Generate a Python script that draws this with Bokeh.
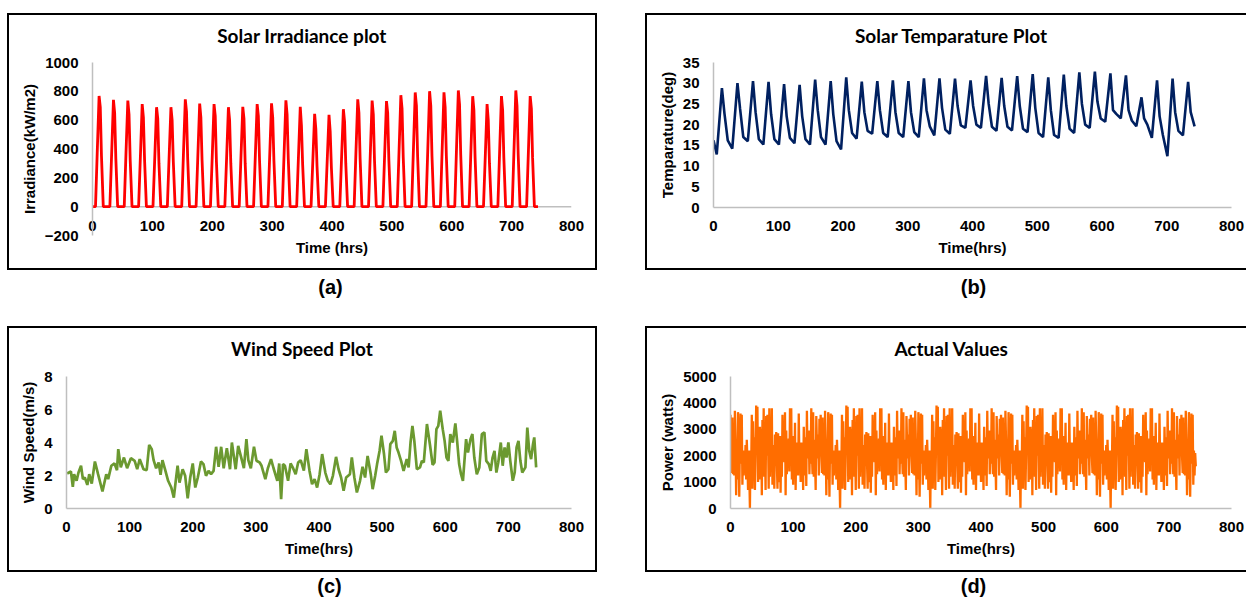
from bokeh.plotting import figure
from bokeh.models import Label, Range1d, Span, Spacer
from bokeh.layouts import column, row
from bokeh.embed import file_html
from bokeh.resources import INLINE

# ---------------- data ----------------
x_ticks = [0, 100, 200, 300, 400, 500, 600, 700, 800]
irr_ticks = [-200, 0, 200, 400, 600, 800, 1000]
temp_ticks = [0, 5, 10, 15, 20, 25, 30, 35]
wind_ticks = [0, 2, 4, 6, 8]
power_ticks = [0, 1000, 2000, 3000, 4000, 5000]

# Solar irradiance: daily values (31 days) at 8h, 11h (peak), 13h, 15h; zero at night
irr_8h = [390, 370, 380, 350, 340, 350, 380, 360, 350, 340, 350, 360, 360, 370, 350, 320,
          320, 340, 380, 370, 370, 390, 400, 400, 400, 410, 390, 350, 390, 400, 380]
irr_peak = [768, 741, 736, 711, 690, 690, 745, 715, 711, 690, 692, 711, 717, 738, 692, 644,
            637, 676, 745, 736, 732, 773, 792, 801, 793, 806, 766, 711, 767, 806, 767]
irr_13h = [690, 650, 640, 620, 610, 600, 660, 620, 630, 600, 610, 630, 620, 640, 560, 540,
           520, 590, 650, 640, 650, 680, 700, 700, 690, 710, 670, 600, 670, 700, 680]
irr_15h = [350, 330, 320, 320, 300, 310, 330, 320, 310, 300, 300, 320, 320, 330, 290, 280,
           270, 300, 330, 320, 320, 340, 350, 350, 350, 360, 340, 300, 340, 360, 340]

# Solar temperature: daily values at dawn (5h), peak (13h), late afternoon (17h), night (22h)
temp_start = 16.2
temp_end = 19.6
temp_dawn = [12.8, 14.2, 16.0, 15.2, 15.2, 15.5, 15.2, 15.2, 14.0, 16.6, 17.8, 17.0, 17.0, 17.0,
             17.4, 17.8, 19.2, 19.2, 18.5, 18.6, 18.2, 17.0, 16.8, 18.0, 19.2, 20.7, 21.5, 19.6,
             16.8, 12.4, 17.4]
temp_peak = [28.8, 30.0, 30.5, 30.3, 29.8, 29.6, 30.9, 30.5, 31.4, 30.4, 30.5, 30.7, 30.5, 31.2,
             31.2, 31.1, 30.7, 31.8, 31.3, 31.7, 32.2, 31.4, 32.1, 32.6, 32.8, 32.4, 31.9, 26.6,
             30.7, 31.1, 30.3]
temp_late = [22.6, 23.9, 23.0, 22.5, 22.0, 22.0, 23.5, 22.5, 23.5, 23.0, 23.5, 23.0, 23.0, 23.5,
             24.0, 24.5, 24.5, 25.0, 24.5, 24.5, 24.0, 23.5, 24.5, 25.0, 25.5, 23.5, 23.5, 21.5,
             22.0, 23.0, 23.0]
temp_night = [16.2, 17.0, 16.5, 16.5, 16.8, 16.5, 17.0, 16.0, 18.0, 18.5, 18.0, 18.0, 18.2, 19.6,
              18.8, 19.8, 20.0, 19.5, 19.5, 19.0, 18.0, 17.5, 19.0, 20.0, 21.5, 22.6, 21.0, 20.0,
              17.5, 18.5]

# Wind speed (hour, m/s)
wind_t = [1, 7, 10, 12, 16, 19, 23, 26, 29, 33, 36, 40, 45, 50, 57, 63, 66, 71, 76, 80, 82, 86,
          91, 96, 102, 108, 112, 116, 122, 127, 131, 135, 138, 142, 146, 149, 152, 156, 161, 166,
          170, 174, 176, 179, 184, 188, 192, 196, 200, 204, 208, 213, 217, 221, 225, 229, 233,
          237, 241, 245, 249, 254, 259, 262, 265, 268, 272, 277, 281, 285, 288, 292, 297, 301,
          306, 309, 315, 319, 324, 328, 334, 337, 340, 343, 346, 351, 355, 359, 363, 367, 371,
          376, 380, 385, 389, 393, 397, 401, 405, 410, 414, 418, 422, 427, 431, 435, 439, 443,
          449, 452, 456, 460, 465, 469, 473, 477, 482, 485, 489, 492, 496, 499, 503, 506, 510,
          513, 517, 520, 523, 526, 530, 534, 539, 542, 545, 548, 551, 555, 560, 563, 566, 571,
          576, 580, 583, 586, 589, 592, 596, 599, 602, 605, 608, 612, 616, 619, 622, 625, 628,
          633, 636, 640, 643, 646, 650, 654, 658, 662, 665, 669, 672, 675, 678, 681, 684, 688,
          691, 694, 697, 700, 703, 707, 710, 713, 716, 719, 722, 727, 730, 733, 736, 739, 741, 744]
wind_v = [2.12, 2.24, 1.31, 2.08, 1.68, 2.18, 2.59, 1.78, 1.88, 1.43, 2.08, 1.51, 2.85, 2.08, 1.03,
          2.08, 1.78, 2.59, 2.73, 2.32, 3.6, 2.49, 3.09, 2.44, 3.05, 2.89, 2.38, 2.99, 2.38, 2.32,
          3.86, 3.6, 2.93, 2.44, 2.79, 2.04, 2.93, 2.38, 1.68, 1.27, 0.66, 1.98, 2.59, 1.57, 2.38,
          1.98, 0.62, 1.88, 2.73, 1.27, 1.88, 2.85, 2.69, 1.98, 2.28, 2.08, 2.28, 3.74, 2.53, 3.74,
          2.44, 3.66, 2.38, 4.0, 3.19, 2.38, 3.8, 3.05, 2.44, 4.2, 2.93, 2.44, 3.74, 2.89, 2.79,
          2.59, 1.78, 2.44, 2.99, 2.44, 1.68, 2.73, 0.56, 2.69, 2.59, 1.68, 2.73, 2.44, 2.08, 2.79,
          2.93, 2.3, 3.6, 2.28, 1.47, 1.78, 1.27, 2.08, 3.3, 2.18, 1.68, 1.47, 1.98, 3.13, 2.38,
          1.88, 1.07, 1.88, 2.08, 3.09, 1.88, 0.97, 1.68, 2.53, 1.88, 3.19, 2.08, 1.17, 1.98, 2.69,
          3.5, 4.41, 3.3, 2.18, 2.38, 3.9, 4.1, 4.71, 3.7, 3.39, 2.89, 2.28, 2.99, 2.49, 4.0, 5.01,
          4.1, 2.38, 2.49, 2.89, 2.79, 5.12, 3.8, 2.64, 2.79, 4.81, 5.01, 5.93, 4.81, 4.1, 3.09,
          2.89, 4.51, 4.0, 5.16, 4.0, 2.69, 2.08, 1.68, 4.2, 3.39, 4.2, 4.51, 3.09, 2.08, 2.49,
          4.51, 4.61, 2.89, 2.69, 2.28, 3.09, 3.5, 2.18, 2.79, 4.0, 2.59, 3.7, 3.09, 4.0, 2.89,
          1.68, 2.18, 3.7, 4.1, 2.89, 2.18, 2.49, 4.91, 3.5, 2.99, 3.9, 4.31, 2.49]

# Actual power (W): hourly values; the recorded series repeats with a 144-hour cycle
power_cycle = [3550, 2000, 1350, 3450, 1300, 2600, 1250, 3700, 2500, 500, 2600, 1100,
               3650, 1900, 450, 2500, 3600, 1700, 3550, 900, 2200, 1250, 2100, 1600,
               2400, 1100, 2600, 1800, 700, 2200, 1300, 0, 2200, 1400, 3550, 750,
               3300, 1250, 2700, 700, 2100, 3900, 2500, 3850, 1000, 2600, 1100, 3100,
               1800, 3000, 500, 3350, 1700, 3800, 1200, 2500, 700, 3500, 2000, 3550,
               2600, 750, 3800, 1200, 2800, 1850, 3800, 900, 2400, 1800, 750, 2800,
               1800, 2900, 1750, 750, 2850, 1000, 1500, 2750, 600, 2600, 1200, 3550,
               1800, 3100, 1750, 3650, 500, 2950, 1300, 2500, 1900, 2650, 1400, 3800,
               2000, 3800, 1100, 2600, 900, 2750, 1600, 3250, 700, 2500, 1350, 2400,
               1250, 3600, 1800, 2200, 1000, 2500, 1600, 2100, 700, 3100, 2000, 1250,
               2700, 850, 3700, 1900, 2400, 2950, 1300, 2600, 1700, 3800, 2100, 1300,
               3650, 1200, 2600, 1850, 700, 3500, 2400, 1900, 2800, 1250, 3400, 2550]
power_hours = 744

# ---------------- build series ----------------
irr_t, irr_v = [0], [0]
for d in range(31):
    b = 24 * d
    irr_t += [b + 5, b + 8, b + 11, b + 13, b + 15, b + 18]
    irr_v += [0, irr_8h[d], irr_peak[d], irr_13h[d], irr_15h[d], 0]
irr_t.append(744)
irr_v.append(0)

temp_t, temp_v = [0], [temp_start]
for d in range(31):
    b = 24 * d
    temp_t += [b + 5, b + 13, b + 17]
    temp_v += [temp_dawn[d], temp_peak[d], temp_late[d]]
    if d < 30:
        temp_t.append(b + 22)
        temp_v.append(temp_night[d])
temp_t.append(743)
temp_v.append(temp_end)

power_v = (power_cycle * 6)[:power_hours]
power_t = list(range(power_hours))

FONT = "Liberation Sans"
TFONT = "Lato"
AXIS_GREY = "#BFBFBF"


def chart(W, H, borders, yr, yticks, ylabel, xlabel, x_std=13):
    bl, br, bt, bb = borders
    p = figure(width=W, height=H, x_range=Range1d(0, 800), y_range=Range1d(*yr),
               output_backend="svg", toolbar_location=None,
               min_border_left=bl, min_border_right=br,
               min_border_top=bt, min_border_bottom=bb)
    p.outline_line_color = None
    p.grid.visible = False
    p.xaxis.ticker = x_ticks
    p.yaxis.ticker = yticks
    for ax in (p.xaxis[0], p.yaxis[0]):
        ax.axis_line_color = AXIS_GREY
        ax.axis_line_width = 1.5
        ax.major_tick_line_color = None
        ax.minor_tick_line_color = None
        ax.major_tick_out = 0
        ax.major_tick_in = 0
        ax.minor_tick_out = 0
        ax.minor_tick_in = 0
        ax.major_label_text_font = FONT
        ax.major_label_text_font_size = "15px"
        ax.major_label_text_font_style = "bold"
        ax.major_label_text_color = "black"
        ax.axis_label_text_font = FONT
        ax.axis_label_text_font_size = "15px"
        ax.axis_label_text_font_style = "bold"
        ax.axis_label_text_color = "black"
    p.xaxis.axis_label = xlabel
    p.yaxis.axis_label = ylabel
    p.xaxis.major_label_standoff = x_std
    p.xaxis.axis_label_standoff = 5
    p.yaxis.major_label_standoff = 14
    p.yaxis.axis_label_standoff = 4
    return p


def text_fig(W, H, text, cx, cy, font, size, bl=0, br=0):
    # x data units equal canvas pixels even when the frame is aligned with the chart below
    c = figure(width=W, height=H, x_range=Range1d(bl, W - br), y_range=Range1d(H, 0),
               output_backend="svg", toolbar_location=None, x_axis_type=None,
               y_axis_type=None, min_border=0, min_border_left=bl, min_border_right=br)
    c.outline_line_color = None
    c.grid.visible = False
    c.add_layout(Label(x=cx, y=cy, text=text, text_align="center", text_baseline="middle",
                       text_font=font, text_font_style="bold", text_font_size=size,
                       text_color="black"))
    return c


def bar(w, h):
    return Spacer(width=w, height=h, styles={"background-color": "black"})


def boxed(title_fig, chart_fig, W, H, right=True):
    inner = [bar(2, H - 4), column(title_fig, chart_fig)] + ([bar(2, H - 4)] if right else [])
    return column(bar(W, 2), row(*inner), bar(W, 2))


TH = 37  # height of the title strip inside each box

# (a) irradiance: x axis crosses at 0, labels drawn above the bottom of the frame
pa = chart(586, 216, (83, 24, 10, 33), (-200, 1000), irr_ticks,
           "Irradiance(kW/m2)", "Time (hrs)", x_std=-15)
pa.xaxis.axis_line_color = None
pa.add_layout(Span(location=0, dimension="width", line_color=AXIS_GREY, line_width=1.5,
                   level="underlay"))
pa.line(irr_t, irr_v, line_color="#FF0000", line_width=2.8)
ta = text_fig(586, TH, "Solar Irradiance plot", 292.5, 19.5, TFONT, "19px", 83, 24)

pb = chart(599, 216, (66, 15, 10, 61), (0, 35), temp_ticks, "Temparature(deg)", "Time(hrs)")
pb.line(temp_t, temp_v, line_color="#002060", line_width=2.6)
tb = text_fig(599, TH, "Solar Temparature Plot", 304, 19.5, TFONT, "19px", 66, 15)

pc = chart(586, 205, (57, 24, 11, 62), (0, 8), wind_ticks, "Wind Speed(m/s)", "Time(hrs)")
pc.line(wind_t, wind_v, line_color="#6B9930", line_width=2.7)
tc = text_fig(586, TH, "Wind Speed Plot", 292.5, 19.5, TFONT, "19px", 57, 24)

pd_ = chart(599, 205, (83, 15, 11, 62), (0, 5000), power_ticks, "Power (watts)", "Time(hrs)")
pd_.line(power_t, power_v, line_color="#FF6D00", line_width=2.3)
td = text_fig(599, TH, "Actual Values", 304, 19.5, TFONT, "19px", 83, 15)

layout = column(
    Spacer(width=1246, height=13),
    row(Spacer(width=7, height=257), boxed(ta, pa, 590, 257), Spacer(width=48, height=257),
        boxed(tb, pb, 601, 257, right=False)),
    row(text_fig(620, 56, "(a)", 330, 16, FONT, "20px"),
        text_fig(626, 56, "(b)", 353, 16, FONT, "20px")),
    row(Spacer(width=7, height=246), boxed(tc, pc, 590, 246), Spacer(width=48, height=246),
        boxed(td, pd_, 601, 246, right=False)),
    row(text_fig(620, 25, "(c)", 329, 13.5, FONT, "20px"),
        text_fig(626, 25, "(d)", 353, 13.5, FONT, "20px")),
)
open("out.html", "w").write(file_html(layout, INLINE))
